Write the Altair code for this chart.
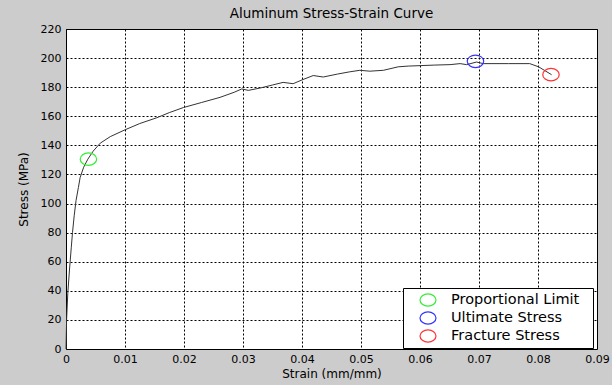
import altair as alt
import pandas as pd

strain = [0, 0.0001, 0.0003, 0.0006, 0.0009, 0.0011, 0.0014, 0.0017, 0.0021, 0.0024,
          0.003, 0.0037, 0.0046, 0.0058, 0.0075, 0.01, 0.0125, 0.0154, 0.0175, 0.0199,
          0.023, 0.0261, 0.0285, 0.0298, 0.0309, 0.033, 0.035, 0.0368, 0.0385, 0.04,
          0.0419, 0.0436, 0.046, 0.048, 0.0498, 0.0515, 0.0538, 0.0563, 0.058, 0.06,
          0.0625, 0.0651, 0.0668, 0.0679, 0.0696, 0.0707, 0.075, 0.0786, 0.0801, 0.0823]
stress = [0, 20, 38, 55, 70, 80, 92, 102, 111, 118,
          125, 130.5, 136, 141.5, 146, 150.7, 155, 159, 162.5, 166,
          169.5, 173, 176.5, 178.8, 177.8, 179.5, 181.5, 183.3, 182.4, 185,
          188, 187, 189, 190.5, 191.6, 191, 191.6, 194, 194.5, 194.8,
          195.2, 195.5, 196.2, 195.5, 197.3, 196.2, 196.2, 196.2, 194, 188.6]

point_names = ["Proportional Limit", "Ultimate Stress", "Fracture Stress"]
point_strain = [0.0038, 0.0694, 0.0822]
point_stress = [130.5, 197.8, 188.6]
point_colors = ["#33ee33", "#3333ff", "#ff3333"]

x_ticks = [0, 0.01, 0.02, 0.03, 0.04, 0.05, 0.06, 0.07, 0.08, 0.09]
y_ticks = [0, 20, 40, 60, 80, 100, 120, 140, 160, 180, 200, 220]

curve = pd.DataFrame({"strain": strain, "stress": stress})
points = pd.DataFrame({"name": point_names, "strain": point_strain, "stress": point_stress})

FONT = "DejaVu Sans"
ELLIPSE = "M -1 0 A 1 0.76 0 1 0 1 0 A 1 0.76 0 1 0 -1 0 Z"

x_scale = alt.Scale(domain=[0, 0.09], nice=False, zero=False)
y_scale = alt.Scale(domain=[0, 220], nice=False)

x_axis = alt.Axis(values=x_ticks, format=".2~f", title="Strain (mm/mm)", labelFlush=False,
                  labelOverlap=False, tickSize=0, labelPadding=4, titlePadding=4)
y_axis = alt.Axis(values=y_ticks, title="Stress (MPa)", tickSize=0, labelPadding=5,
                  labelOverlap=False, labelFlush=False, titlePadding=10)

line = alt.Chart(curve).mark_line(color="#333333", strokeWidth=1).encode(
    x=alt.X("strain:Q", scale=x_scale, axis=x_axis),
    y=alt.Y("stress:Q", scale=y_scale, axis=y_axis),
    order="strain:Q",
)

marks = alt.Chart(points).mark_point(shape=ELLIPSE, filled=False, size=270, strokeWidth=1.2, opacity=1).encode(
    x=alt.X("strain:Q", scale=x_scale, axis=x_axis),
    y=alt.Y("stress:Q", scale=y_scale, axis=y_axis),
    color=alt.Color("name:N",
                    scale=alt.Scale(domain=point_names, range=point_colors),
                    sort=point_names,
                    legend=alt.Legend(title=".", titleOrient="right", titleColor="white",
                                      titleFontSize=8, titlePadding=8,
                                      orient="none", legendX=337, legendY=259,
                                      fillColor="white", strokeColor="black", padding=3,
                                      symbolOffset=13, symbolType=ELLIPSE, symbolSize=256,
                                      symbolStrokeWidth=1.2, symbolFillColor="transparent",
                                      labelFontSize=14.5, labelOffset=14, rowPadding=0,
                                      labelFont=FONT, labelColor="black")),
)

chart = (line + marks).properties(
    width=531, height=320,
    title=alt.Title("Aluminum Stress-Strain Curve", fontSize=13.5, font=FONT,
                    fontWeight="normal", color="black", offset=3, anchor="middle"),
    background="#cccccc",
    padding={"left": 66, "top": 29, "right": 15, "bottom": 36},
    autosize=alt.AutoSizeParams(type="none"),
).configure_view(
    fill="white", stroke="black", strokeWidth=1
).configure_axis(
    grid=True, gridColor="black", gridDash=[2, 2], gridWidth=1, gridOpacity=1,
    domain=False, labelFont=FONT, labelFontSize=11, labelColor="black",
    titleFont=FONT, titleFontSize=12, titleFontWeight="normal", titleColor="black",
)

chart.save("out.html", embed_options={"renderer": "svg", "actions": False})
